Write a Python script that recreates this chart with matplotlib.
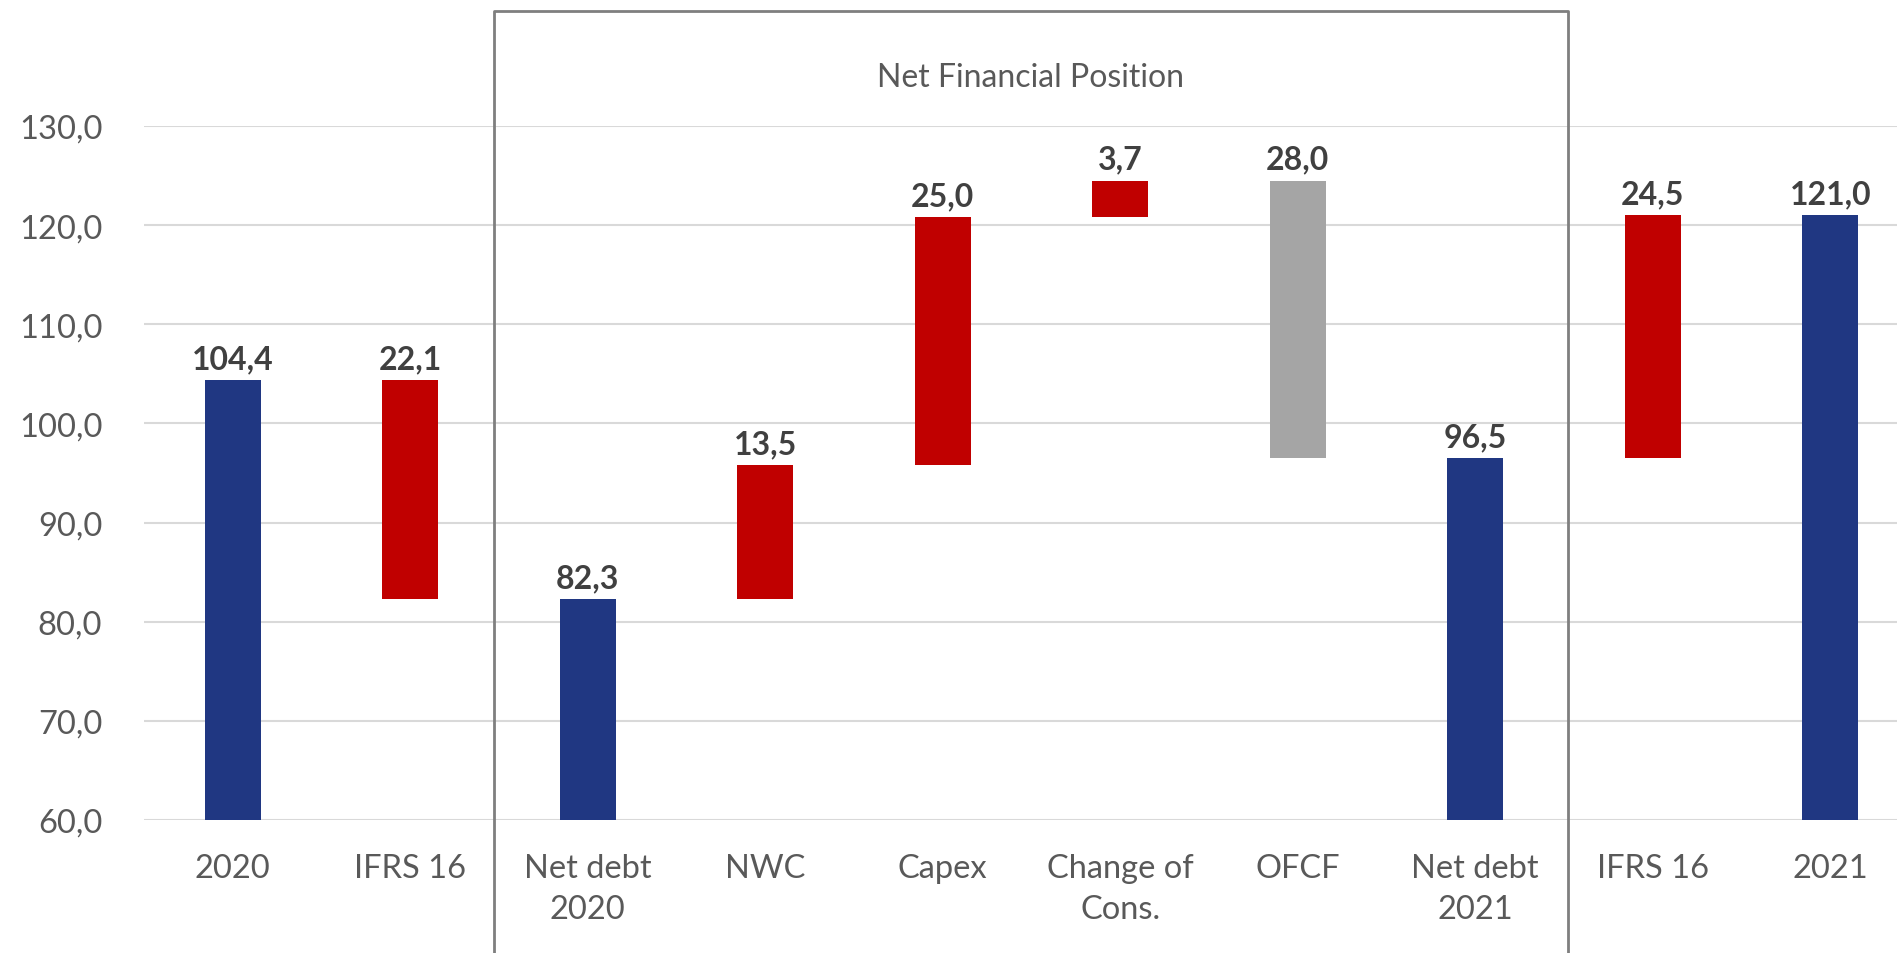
import matplotlib.pyplot as plt
from matplotlib.transforms import blended_transform_factory

plt.rcParams['font.family'] = ['Lato', 'DejaVu Sans']

# Dữ liệu
categories = ['2020', 'IFRS 16', 'Net debt\n2020', 'NWC', 'Capex', 'Change of\nCons.',
              'OFCF', 'Net debt\n2021', 'IFRS 16', '2021']
values = [104.4, 22.1, 82.3, 13.5, 25.0, 3.7, 28.0, 96.5, 24.5, 121.0]
bottoms = [0, 82.3, 0, 82.3, 95.8, 120.8, 96.5, 0, 96.5, 0]
kinds = ['total', 'red', 'total', 'red', 'red', 'red', 'grey', 'total', 'red', 'total']

colors = {'total': '#203782', 'red': '#C00000', 'grey': '#A5A5A5'}

fig = plt.figure(figsize=(18.97, 9.54), dpi=100)
ax = fig.add_axes([144 / 1897, 133 / 954, 1775 / 1897, 694 / 954])

x = range(len(categories))
ax.bar(x, values, bottom=bottoms, width=0.315,
       color=[colors[k] for k in kinds], zorder=3)

# nhãn giá trị
for i, (v, b) in enumerate(zip(values, bottoms)):
    ax.annotate(f'{v:.1f}'.replace('.', ','), (i, v + b), xytext=(0, 5),
                textcoords='offset points', ha='center', va='bottom',
                fontsize=23, fontweight='bold', color='#404040', zorder=4)

ax.set_xlim(-0.5, len(categories) - 0.5)
ax.set_ylim(60, 130)
ax.set_yticks(range(60, 131, 10))
ax.set_yticklabels([f'{t},0' for t in range(60, 131, 10)])
ax.set_xticks(list(x))
ax.set_xticklabels(categories, linespacing=1.45)

ax.grid(axis='y', color='#D9D9D9', linewidth=1.5, zorder=0)
for s in ax.spines.values():
    s.set_visible(False)
ax.tick_params(axis='both', length=0, labelsize=23.5, labelcolor='#595959')
ax.tick_params(axis='y', pad=30)
ax.tick_params(axis='x', pad=24)

# khung "Net Financial Position"
tr = blended_transform_factory(ax.transData, fig.transFigure)
box_l, box_r, box_top = 1.47, 7.52, 0.9874
ax.plot([box_l, box_l, box_r, box_r], [0, box_top, box_top, 0], transform=tr,
        color='#7F7F7F', linewidth=2, clip_on=False, zorder=5)
ax.text((box_l + box_r) / 2, 0.918, 'Net Financial Position', transform=tr,
        ha='center', va='center', fontsize=23, color='#595959')

fig.savefig('out.png', dpi=100)
